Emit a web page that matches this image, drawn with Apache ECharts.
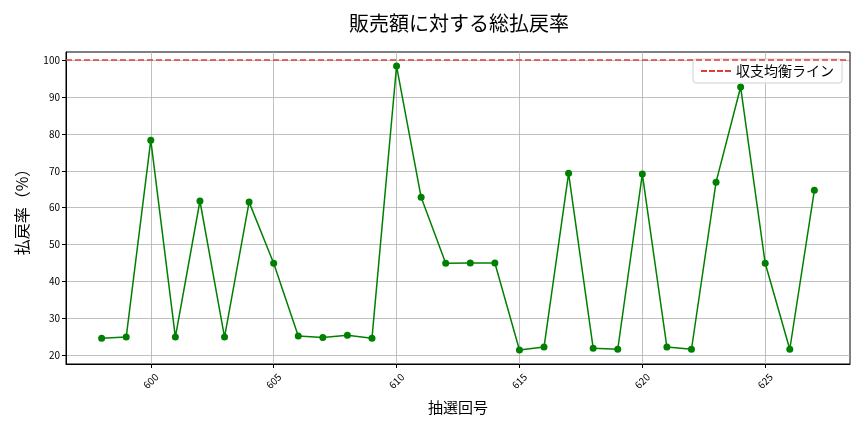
<!DOCTYPE html>
<html>
<head>
<meta charset="utf-8">
<script src="https://cdn.jsdelivr.net/npm/echarts@6/dist/echarts.min.js"></script>
<style>
	html, body { margin: 0; padding: 0; background: #fff; }
	#main { width: 864px; height: 432px; }
</style>
</head>
<body>
<div id="main"></div>
<script>
var drawNumbers = [598, 599, 600, 601, 602, 603, 604, 605, 606, 607, 608, 609, 610, 611, 612,
	613, 614, 615, 616, 617, 618, 619, 620, 621, 622, 623, 624, 625, 626, 627];
var payoutRate = [24.6, 24.9, 78.3, 24.9, 61.8, 24.9, 61.5, 44.9, 25.2, 24.8, 25.4, 24.6, 98.4, 62.8, 44.9,
	45.0, 45.0, 21.4, 22.2, 69.3, 21.9, 21.6, 69.1, 22.2, 21.6, 66.9, 92.7, 44.9, 21.6, 64.7];
var xTicks = [600, 605, 610, 615, 620, 625];
var yTicks = [20, 30, 40, 50, 60, 70, 80, 90, 100];
var breakEven = 100;

var font = '"Noto Sans CJK JP", "DejaVu Sans", sans-serif';

var chart = echarts.init(document.getElementById('main'));

var points = drawNumbers.map(function (n, i) { return [n, payoutRate[i]]; });

chart.setOption({
	animation: false,
	textStyle: { fontFamily: font },
	title: {
		text: '販売額に対する総払戻率',
		left: 454,
		top: 8,
		textAlign: 'center',
		textStyle: { fontFamily: font, fontSize: 20, fontWeight: 'normal', color: '#000' }
	},
	legend: {
		right: 22,
		top: 59,
		itemWidth: 30,
		itemHeight: 2,
		padding: [5, 8, 5, 8],
		borderColor: '#d0d0d0',
		borderWidth: 1,
		borderRadius: 3,
		backgroundColor: 'rgba(255,255,255,0.85)',
		textStyle: { fontFamily: font, fontSize: 14, color: '#000' },
		data: [{ name: '収支均衡ライン', icon: 'path://M0,0 h6 v2 h-6z M8,0 h6 v2 h-6z M16,0 h6 v2 h-6z M24,0 h6 v2 h-6z' }]
	},
	grid: {
		left: 66, right: 14, top: 52, bottom: 68,
		show: true, borderColor: '#000', borderWidth: 1
	},
	xAxis: {
		type: 'value',
		min: 596.55,
		max: 628.45,
		name: '抽選回号',
		nameLocation: 'middle',
		nameGap: 36,
		nameTextStyle: { fontFamily: font, fontSize: 15, color: '#000' },
		axisLine: { show: true, onZero: false, lineStyle: { color: '#000', width: 1 } },
		axisTick: { show: true, length: 4, customValues: xTicks, lineStyle: { color: '#000' } },
		axisLabel: {
			customValues: xTicks,
			rotate: 45,
			align: 'center',
			verticalAlign: 'middle',
			margin: 17,
			fontSize: 10,
			color: '#000',
			fontFamily: font
		},
		splitLine: { show: true, lineStyle: { color: '#b0b0b0', width: 0.8 } }
	},
	yAxis: {
		type: 'value',
		min: 17.6,
		max: 102.2,
		name: '払戻率（%）',
		nameLocation: 'middle',
		nameGap: 36,
		nameTextStyle: { fontFamily: font, fontSize: 16, color: '#000' },
		axisLine: { show: true, lineStyle: { color: '#000', width: 1 } },
		axisTick: { show: true, length: 4, customValues: yTicks, lineStyle: { color: '#000' } },
		axisLabel: { customValues: yTicks, fontSize: 10, color: '#000', margin: 6, fontFamily: font },
		splitLine: { show: true, lineStyle: { color: '#b0b0b0', width: 0.8 } }
	},
	series: [{
		name: '払戻率',
		type: 'line',
		data: points,
		symbol: 'circle',
		symbolSize: 7,
		itemStyle: { color: '#008000' },
		lineStyle: { color: '#008000', width: 1.5 },
		z: 3
	}, {
		name: '収支均衡ライン',
		type: 'line',
		data: [],
		itemStyle: { color: '#e03c3c' },
		lineStyle: { color: '#e03c3c', type: 'dashed', width: 1.5 },
		markLine: {
			silent: true,
			symbol: 'none',
			label: { show: false },
			lineStyle: { color: '#e03c3c', type: [6, 3], width: 1.5 },
			data: [{ yAxis: breakEven }]
		}
	}]
});
</script>
</body>
</html>
